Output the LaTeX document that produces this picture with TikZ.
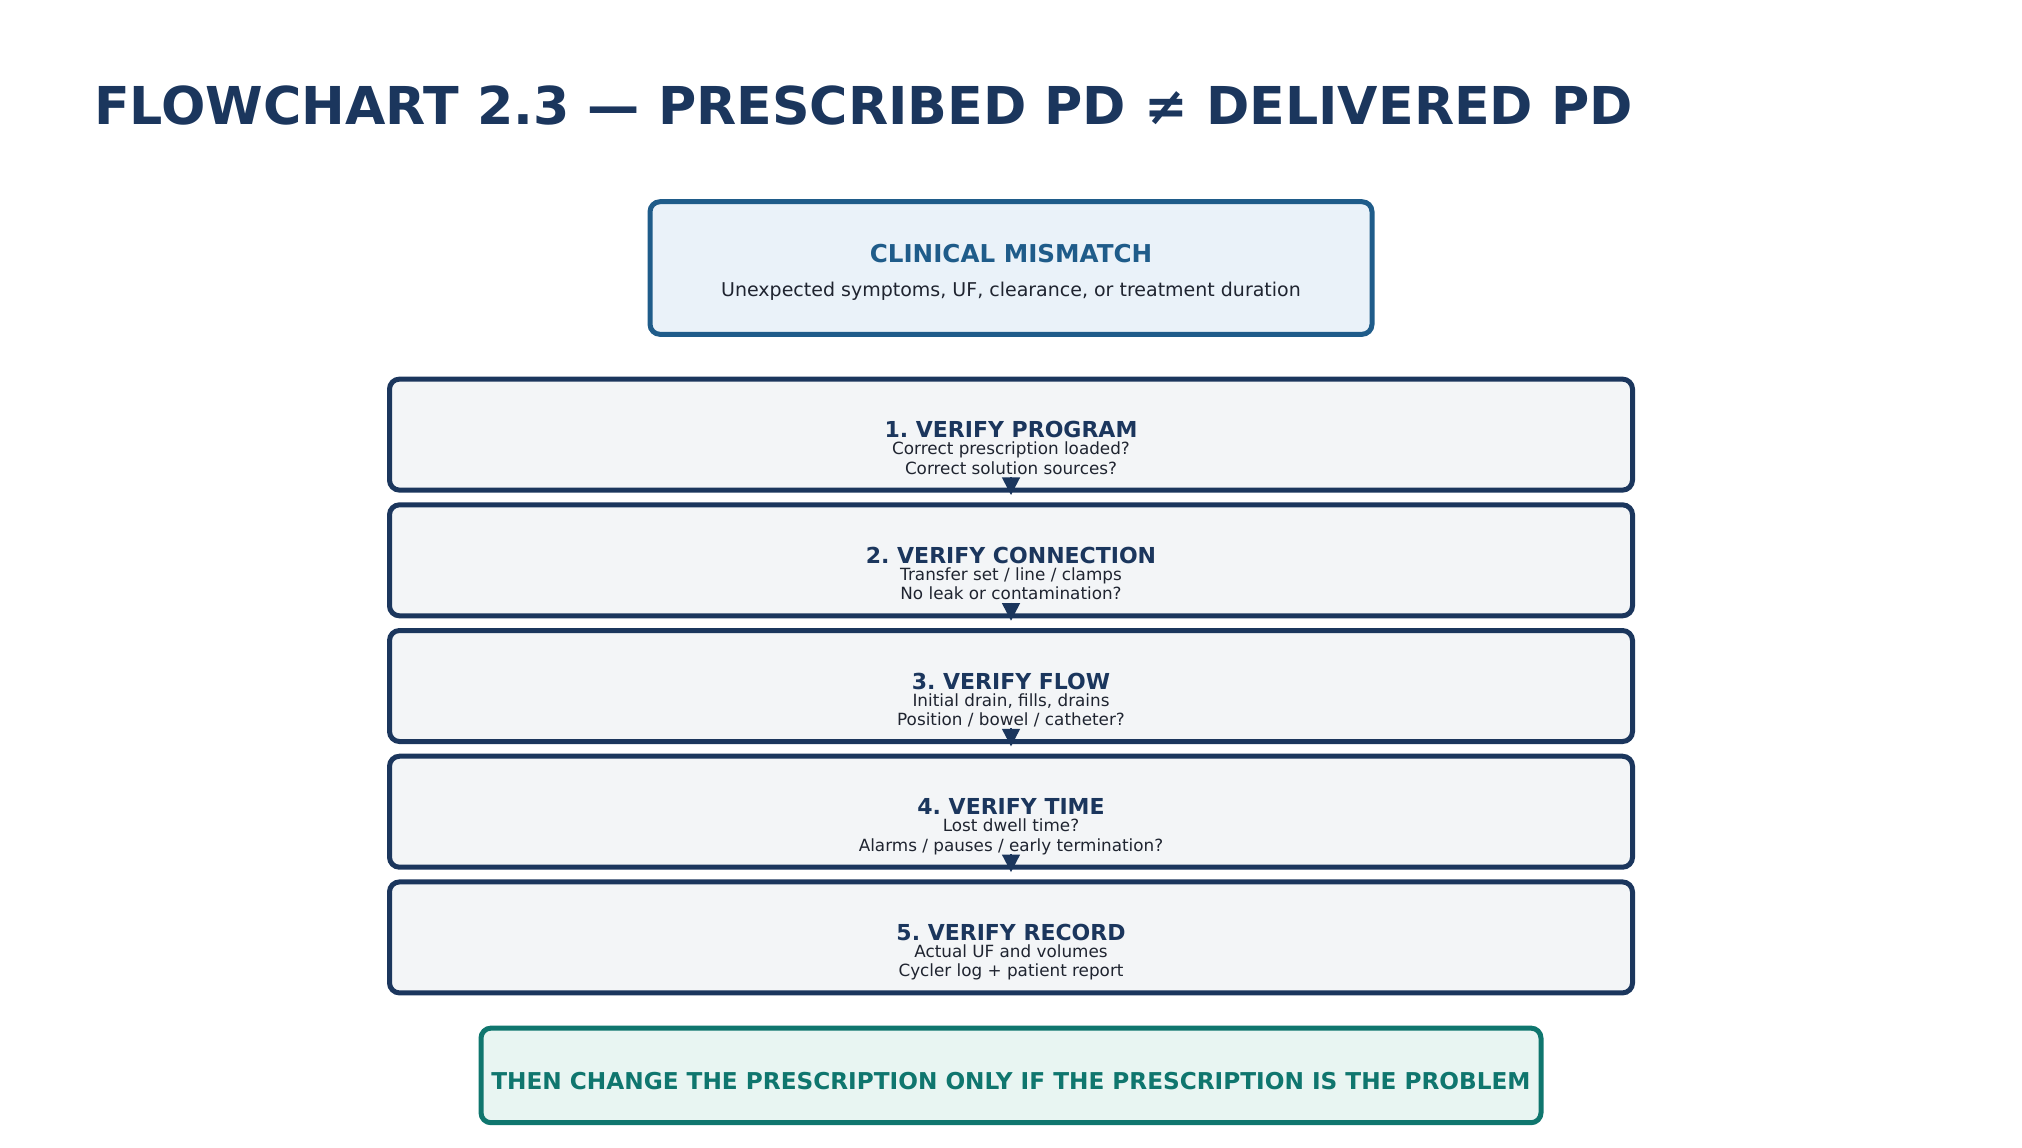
\documentclass[tikz,border=0pt]{standalone}
\usepackage{fontspec}
\setmainfont{DejaVu Sans}
\frenchspacing
\usetikzlibrary{arrows.meta}
\definecolor{navy}{HTML}{1B365D}
\definecolor{mismatchblue}{HTML}{1F5C8A}
\definecolor{mismatchfill}{HTML}{EAF2F9}
\definecolor{stepfill}{HTML}{F3F5F7}
\definecolor{ink}{HTML}{1F2430}
\definecolor{rulegreen}{HTML}{0F766E}
\definecolor{rulefill}{HTML}{E8F5F2}
\begin{document}
\begin{tikzpicture}[x=0.5pt, y=-0.5pt,
	box/.style={draw, line width=2.5pt, rounded corners=5pt, inner sep=0pt},
	stepbox/.style={box, draw=navy, fill=stepfill, minimum width=621.5pt, minimum height=55.5pt},
	steptitle/.style={anchor=base, text=navy, font=\fontsize{11}{13}\selectfont\bfseries},
	stepline/.style={anchor=base, text=ink, font=\fontsize{8.4}{10}\selectfont},
	flow/.style={-{Triangle[length=8.8pt, width=9pt]}, navy, line width=0.75pt}]
	\useasboundingbox (0,0) rectangle (2022,1147);
	\node[anchor=base west, text=navy, font=\fontsize{26.1}{31}\selectfont\bfseries] (title) at (87,124) {FLOWCHART 2.3 — PRESCRIBED PD ≠ DELIVERED PD};
	\node[box, draw=mismatchblue, fill=mismatchfill, minimum width=361pt, minimum height=66.3pt] (mismatch) at (1011,268) {};
	\node[text=mismatchblue, font=\fontsize{12.3}{14}\selectfont\bfseries] (mismatchttl) at (1011,254) {CLINICAL MISMATCH};
	\node[text=ink, font=\fontsize{9.5}{11}\selectfont] (mismatchtxt) at (1011,291.5) {Unexpected symptoms, UF, clearance, or treatment duration};
	\foreach \n/\ttl/\la/\lb [evaluate=\n as \yc using 434.6+125.7*(\n-1)] in
	{
		1/{VERIFY PROGRAM}/{Correct prescription loaded?}/{Correct solution sources?},
		2/{VERIFY CONNECTION}/{Transfer set / line / clamps}/{No leak or contamination?},
		3/{VERIFY FLOW}/{Initial drain, fills, drains}/{Position / bowel / catheter?},
		4/{VERIFY TIME}/{Lost dwell time?}/{Alarms / pauses / early termination?},
		5/{VERIFY RECORD}/{Actual UF and volumes}/{Cycler log + patient report}
	}
	{
		\node[stepbox] (s\n) at (1011,\yc) {};
		\node[steptitle] (h\n) at (1011,\yc+3) {\n. \ttl};
		\node[stepline] (a\n) at (1011,\yc+20) {\la};
		\node[stepline] (b\n) at (1011,\yc+39.5) {\lb};
	};
	\foreach \i/\j in {1/2,2/3,3/4,4/5}
		\draw[flow] ([yshift=7.8pt]s\i.south) -- ([yshift=3.65pt]s\j.north);
	\node[box, draw=rulegreen, fill=rulefill, minimum width=530pt, minimum height=47.3pt] (rule) at (1011,1075.4) {};
	\node[text=rulegreen, font=\fontsize{11.6}{14}\selectfont\bfseries] (ruletxt) at (1011,1081) {THEN CHANGE THE PRESCRIPTION ONLY IF THE PRESCRIPTION IS THE PROBLEM};
\end{tikzpicture}
\end{document}
